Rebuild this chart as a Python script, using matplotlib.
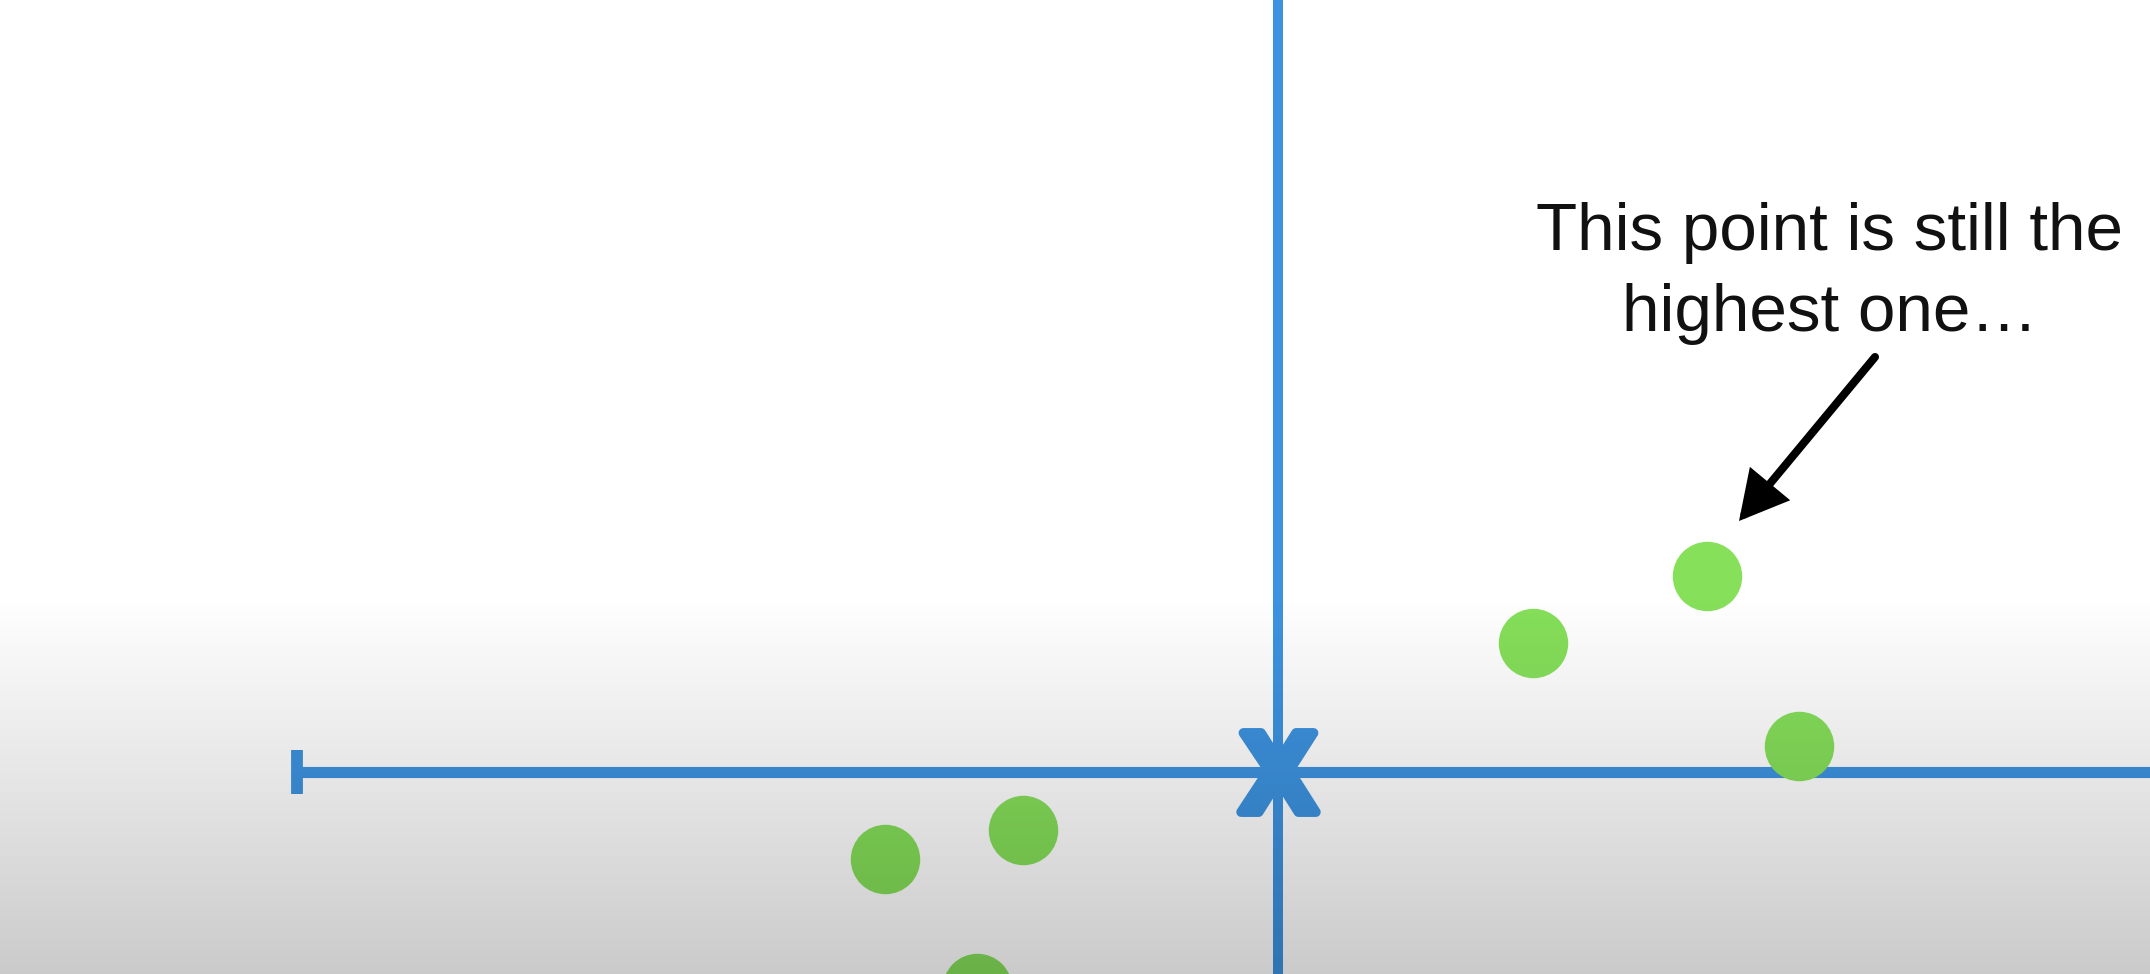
import numpy as np
import matplotlib.pyplot as plt
from matplotlib.textpath import TextPath
from matplotlib.font_manager import FontProperties
from matplotlib.transforms import Affine2D
from matplotlib.markers import MarkerStyle

# data (1 unit = 100 px, origin at the centre cross)
point_x = [4.29, 2.55, 5.21, -2.55, -3.93, -3.01]
point_y = [1.96, 1.29, 0.26, -0.58, -0.87, -2.16]
center_x = 0.0
center_y = 0.0
line_left = -9.81
label_lines = ["This point is still the", "highest one\u2026"]
label_x = 5.52
label_y = [5.22, 4.41]
arrow_tail = (5.97, 4.15)
arrow_tip = (4.61, 2.51)

blue = '#3d93e0'
green = '#86e05a'

fig = plt.figure(figsize=(21.5, 9.74), dpi=100)
ax = fig.add_axes([0, 0, 1, 1])
ax.set_xlim(-12.78, 8.72)
ax.set_ylim(-2.02, 7.72)
ax.axis('off')

# axis lines
ax.plot([line_left, 8.72], [center_y, center_y], color=blue, lw=8, solid_capstyle='butt', zorder=2)
ax.plot([line_left, line_left], [-0.22, 0.22], color=blue, lw=8.5, solid_capstyle='butt', zorder=2)
ax.axvline(center_x, color=blue, lw=7.2, zorder=2)

# big X marker at the centre
tp = TextPath((0, 0), 'X', size=1, prop=FontProperties(family='Liberation Sans', weight='bold'))
ext = tp.get_extents()
tp = tp.transformed(Affine2D().translate(-(ext.x0 + ext.x1) / 2, -(ext.y0 + ext.y1) / 2))
ax.plot([center_x], [center_y], marker=MarkerStyle(tp, joinstyle='miter'),
        markersize=57, color=blue, mec=blue, mew=7, zorder=3)

# points
ax.plot(point_x, point_y, 'o', ms=50, color=green, mec='none', zorder=4)

# annotation
for line, y in zip(label_lines, label_y):
    ax.text(label_x, y, line, ha='center', va='baseline', fontsize=48.5,
            family='Liberation Sans', color='#111111', zorder=5)
ax.annotate('', xy=arrow_tip, xytext=arrow_tail,
            arrowprops=dict(arrowstyle='-|>,head_length=26,head_width=14',
                            mutation_scale=1, color='black', lw=5.8,
                            joinstyle='miter', shrinkA=0, shrinkB=0), zorder=5)

# darkening gradient at the bottom
n = 400
yy = np.linspace(-2.02, 7.72, n)
alpha = np.clip((1.8 - yy) / 3.84, 0, 1) * 0.21
overlay = np.zeros((n, 1, 4))
overlay[:, 0, 3] = alpha
ax.imshow(overlay, extent=[-12.78, 8.72, -2.02, 7.72], origin='lower',
          aspect='auto', zorder=10, interpolation='bilinear')

fig.savefig('out.png', dpi=100)
